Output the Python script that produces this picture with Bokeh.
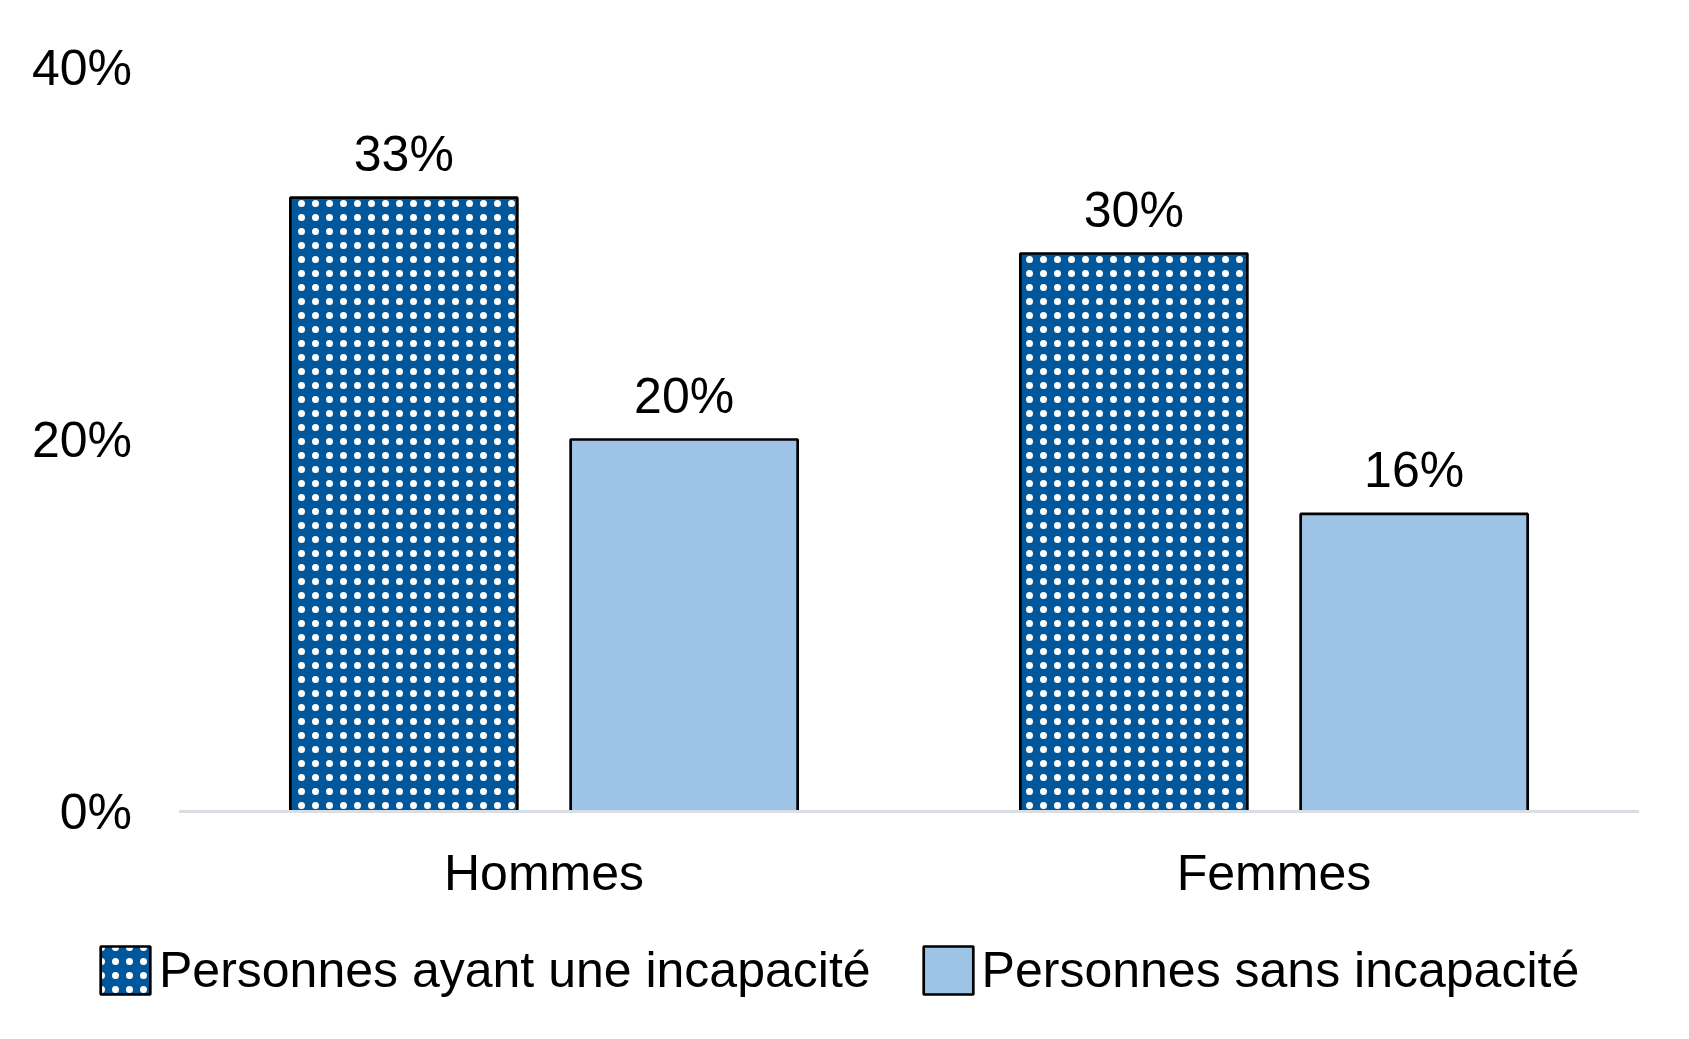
from bokeh.plotting import figure
from bokeh.models import (ColumnDataSource, Range1d, LabelSet, Legend, LegendItem, FixedTicker)
from bokeh.core.properties import value
from bokeh.transform import dodge
from bokeh.embed import file_html
from bokeh.resources import INLINE

categories = ["Hommes", "Femmes"]
series_names = ["Personnes ayant une incapacité", "Personnes sans incapacité"]
with_disability = [33, 30]
without_disability = [20, 16]
y_ticks = [0, 20, 40]
y_tick_labels = {0: "0%", 20: "20%", 40: "40%"}

FONT = "Liberation Sans"
DARK = "#01579B"
LIGHT = "#9DC3E6"

xpos = [i + 0.5 for i in range(len(categories))]
src = ColumnDataSource(dict(
    xc=xpos,
    a=with_disability,
    b=without_disability,
    a_lbl=[f"{v}%" for v in with_disability],
    b_lbl=[f"{v}%" for v in without_disability],
))

W, H = 1673, 1023
px_x = 730.0   # pixels per category
px_y = 18.6    # pixels per percentage point
x0 = 0.5 - 543.5 / px_x
y0 = -212 / px_y
p = figure(
    width=W, height=H,
    x_range=Range1d(x0, x0 + W / px_x),
    y_range=Range1d(y0, y0 + H / px_y),
    output_backend="svg", toolbar_location=None,
    min_border=0, min_border_left=0, min_border_right=0,
    min_border_top=0, min_border_bottom=0,
)
p.outline_line_color = None
p.xgrid.grid_line_color = None
p.ygrid.grid_line_color = None

off = 0.192
w = 0.311
r1 = p.vbar(x=dodge("xc", -off), top="a", width=w, source=src,
            fill_color=DARK, line_color="black", line_width=2.7,
            hatch_pattern="dot", hatch_color="white", hatch_scale=14, hatch_weight=1.1)
r2 = p.vbar(x=dodge("xc", off), top="b", width=w, source=src,
            fill_color=LIGHT, line_color="black", line_width=2.7)

# baseline (category axis line) across the plotting area
p.segment(x0=[0], y0=[0], x1=[len(categories)], y1=[0], line_color="#D9DEE5", line_width=3)

for col, lbl, o in (("a", "a_lbl", -off), ("b", "b_lbl", off)):
    ls = LabelSet(x=dodge("xc", o), y=col, text=lbl, source=src,
                  text_align="center", text_baseline="alphabetic", y_offset=27,
                  text_font=value(FONT), text_font_size=value("50px"), text_color="black")
    p.add_layout(ls)

for ax in (p.xaxis, p.yaxis):
    ax.axis_line_color = None
    ax.major_tick_line_color = None
    ax.minor_tick_line_color = None
    ax.major_tick_out = 0
    ax.major_tick_in = 0
    ax.major_label_text_font = FONT
    ax.major_label_text_font_size = "50px"
    ax.major_label_text_color = "black"
    ax.fixed_location = 0

p.yaxis.ticker = FixedTicker(ticks=y_ticks)
p.yaxis.major_label_overrides = y_tick_labels
p.yaxis.major_label_standoff = 47

p.xaxis.ticker = FixedTicker(ticks=xpos)
p.xaxis.major_label_overrides = {x: c for x, c in zip(xpos, categories)}
p.xaxis.major_label_standoff = 33

legend = Legend(
    items=[LegendItem(label=series_names[0], renderers=[r1]),
           LegendItem(label=series_names[1], renderers=[r2])],
    orientation="horizontal", location=(94, 23),
    glyph_width=62, glyph_height=60, label_height=60,
    label_standoff=3, spacing=46, padding=0, margin=0,
    label_text_font=FONT, label_text_font_size="50px", label_text_color="black",
    border_line_color=None, background_fill_alpha=0,
)
p.add_layout(legend, "center")

open("out.html", "w").write(file_html(p, INLINE))
